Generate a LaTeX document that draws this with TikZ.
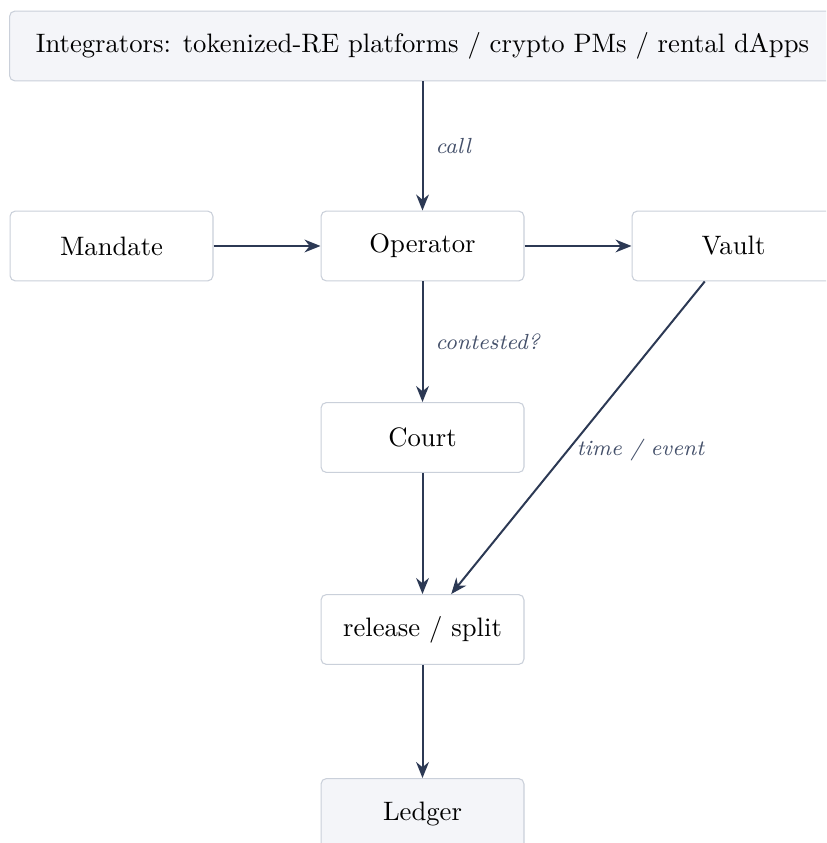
\documentclass[tikz,border=0pt]{standalone}
\usetikzlibrary{arrows.meta}
\definecolor{edgecol}{RGB}{44,57,84}
\definecolor{boxline}{RGB}{202,208,218}
\definecolor{boxfill}{RGB}{244,245,249}
\definecolor{notecol}{RGB}{68,80,106}
\begin{document}
\begin{tikzpicture}[x=0.375pt,y=-0.375pt,
  stage/.style={draw=boxline,line width=0.4pt,rounded corners=2pt,fill=white,
    minimum width=76.1pt,minimum height=26.2pt,inner sep=0pt},
  shaded/.style={stage,fill=boxfill},
  flow/.style={draw=edgecol,line width=0.75pt,-{Stealth[length=6pt,width=4.8pt]}},
  note/.style={font=\fontsize{8.2}{10}\selectfont\itshape,text=notecol,inner sep=4.5pt}]
\path[use as bounding box,clip] (0,0) rectangle (826,843);
\node[shaded,minimum width=309.7pt] (integ) at (422.5,46)
  {Integrators: tokenized-RE platforms / crypto PMs / rental dApps};
\node[stage] (mandate) at (111.5,246) {Mandate};
\node[stage] (operator) at (422.5,246) {Operator};
\node[stage] (vault) at (733.5,246) {Vault};
\node[stage] (court) at (422.5,437.5) {Court};
\node[stage] (release) at (422.5,629.5) {release / split};
\node[shaded] (ledger) at (422.5,813.5) {Ledger};
\draw[flow] (integ) -- node[note,right] {call} (operator);
\draw[flow] (mandate) -- (operator);
\draw[flow] (operator) -- (vault);
\draw[flow] (operator) -- node[note,right] {contested?} (court);
\draw[flow] (vault) -- node[note,pos=0.5,anchor=west,xshift=-1.8pt,yshift=-4.5pt,inner sep=1pt] {time / event} (release);
\draw[flow] (court) -- (release);
\draw[flow] (release) -- (ledger);
\end{tikzpicture}
\end{document}
